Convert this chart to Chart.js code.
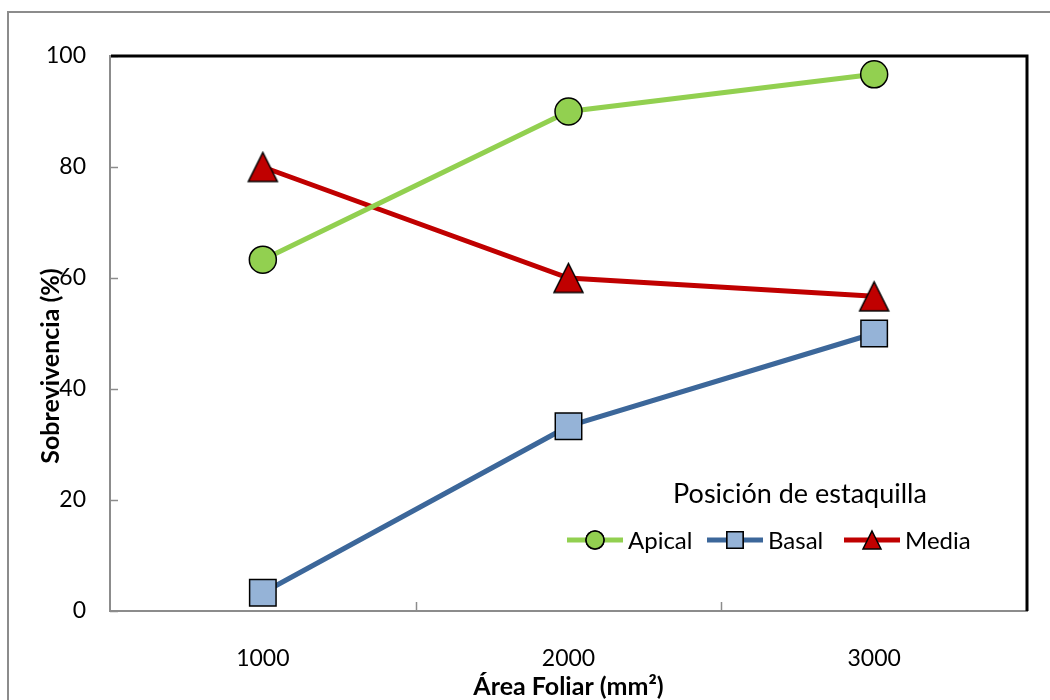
<!DOCTYPE html>
<html>
<head>
<meta charset="utf-8">
<script src="https://cdn.jsdelivr.net/npm/chart.js@4"></script>
<style>
  body { margin: 0; background: #fff; }
  #wrap { width: 1050px; height: 700px; }
</style>
</head>
<body>
<div id="wrap"><canvas id="chart1" width="1050" height="700"></canvas></div>
<script>
const areas = ['1000', '2000', '3000'];
const apical = [63.3, 90, 96.7];
const basal = [3.3, 33.3, 50];
const media = [80, 60, 56.7];
const yTicks = [0, 20, 40, 60, 80, 100];

const FONT = 'Lato, "Liberation Sans", sans-serif';

// triangle path with its bounding box centred on (cx, cy)
function triPath(c, cx, cy, w, h) {
    c.beginPath();
    c.moveTo(cx, cy - h / 2);
    c.lineTo(cx + w / 2, cy + h / 2);
    c.lineTo(cx - w / 2, cy + h / 2);
    c.closePath();
}

function triangleMarker(w, h, fill) {
    const cv = document.createElement('canvas');
    cv.width = w + 4;
    cv.height = h + 4;
    const c = cv.getContext('2d');
    triPath(c, cv.width / 2, cv.height / 2, w, h);
    c.fillStyle = fill;
    c.fill();
    c.lineWidth = 1.5;
    c.lineJoin = 'miter';
    c.strokeStyle = '#000';
    c.stroke();
    return cv;
}

const decor = {
    id: 'decor',
    beforeDraw(chart) {
        const c = chart.ctx;
        c.save();
        c.fillStyle = '#fff';
        c.fillRect(0, 0, chart.width, chart.height);
        c.strokeStyle = '#8c8c8c';
        c.lineWidth = 2;
        c.strokeRect(8, 12, chart.width + 20, chart.height + 20);
        c.restore();
    },
    beforeDatasetsDraw(chart) {
        const c = chart.ctx;
        const a = chart.chartArea;
        const xs = chart.scales.x;
        const ys = chart.scales.y;
        c.save();
        c.strokeStyle = '#8c8c8c';
        c.lineWidth = 1.5;
        // inward tick marks
        for (let i = 1; i < areas.length; i++) {
            const x = Math.round(xs.getPixelForValue(i - 0.5)) + 0.5;
            c.beginPath();
            c.moveTo(x, a.bottom);
            c.lineTo(x, a.bottom - 9);
            c.stroke();
        }
        yTicks.forEach(v => {
            const y = Math.round(ys.getPixelForValue(v)) + 0.5;
            c.beginPath();
            c.moveTo(a.left, y);
            c.lineTo(a.left + 8, y);
            c.stroke();
        });
        c.restore();
    },
    afterDatasetsDraw(chart) {
        const c = chart.ctx;
        const a = chart.chartArea;
        c.save();
        // black frame top + right
        c.strokeStyle = '#000';
        c.lineWidth = 3;
        c.beginPath();
        c.moveTo(a.left + 1, a.top);
        c.lineTo(a.right, a.top);
        c.lineTo(a.right, a.bottom);
        c.stroke();
        // axis titles
        c.fillStyle = '#000';
        c.font = 'bold 25px ' + FONT;
        c.textAlign = 'center';
        c.textBaseline = 'middle';
        c.fillText('Área Foliar (mm²)', (a.left + a.right) / 2, 687);
        c.save();
        c.translate(51, 366);
        c.rotate(-Math.PI / 2);
        c.fillText('Sobrevivencia (%)', 0, 0);
        c.restore();
        // legend
        c.font = '27px ' + FONT;
        c.fillText('Posición de estaquilla', 800, 494);
        const items = [
            { ds: 0, x0: 567, r: 9 },
            { ds: 1, x0: 707, r: 11.5 },
            { ds: 2, x0: 844, r: 0 }
        ];
        const ly = 540;
        c.font = '24px ' + FONT;
        c.textAlign = 'left';
        items.forEach(it => {
            const d = chart.data.datasets[it.ds];
            c.strokeStyle = d.borderColor;
            c.lineWidth = 5;
            c.beginPath();
            c.moveTo(it.x0, ly);
            c.lineTo(it.x0 + 56, ly);
            c.stroke();
            c.fillStyle = d.pointBackgroundColor;
            c.strokeStyle = '#000';
            c.lineWidth = 1.5;
            if (it.ds === 2) {
                triPath(c, it.x0 + 28, ly, 18, 18);
            } else {
                Chart.helpers.drawPoint(c, { pointStyle: d.pointStyle, radius: it.r, borderWidth: 1.5, rotation: 0 }, it.x0 + 28, ly);
            }
            c.fill();
            c.stroke();
            c.fillStyle = '#000';
            c.fillText(d.label, it.x0 + 61, ly + 1);
        });
        c.restore();
    }
};

new Chart(document.getElementById('chart1'), {
    type: 'line',
    data: {
        labels: areas,
        datasets: [{
            label: 'Apical',
            data: apical,
            borderColor: '#92D050',
            borderWidth: 5,
            pointStyle: 'circle',
            pointRadius: 13.5,
            pointBackgroundColor: '#92D050',
            pointBorderColor: '#000',
            pointBorderWidth: 1.5
        }, {
            label: 'Basal',
            data: basal,
            borderColor: '#3C679A',
            borderWidth: 5,
            pointStyle: 'rect',
            pointRadius: 18.7,
            pointBackgroundColor: '#95B3D7',
            pointBorderColor: '#000',
            pointBorderWidth: 1.5
        }, {
            label: 'Media',
            data: media,
            borderColor: '#C00000',
            borderWidth: 5,
            pointStyle: triangleMarker(29, 29, '#C00000'),
            pointRadius: 16,
            pointBackgroundColor: '#C00000',
            pointBorderColor: '#000',
            pointBorderWidth: 1.5
        }]
    },
    options: {
        responsive: false,
        animation: false,
        layout: { padding: { left: 0, top: 56, right: 23, bottom: 0 } },
        plugins: { legend: { display: false }, tooltip: { enabled: false } },
        scales: {
            x: {
                type: 'category',
                offset: true,
                grid: { display: false, drawTicks: false },
                border: { display: true, color: '#8c8c8c', width: 2 },
                ticks: { color: '#000', font: { family: FONT, size: 23 }, padding: 34 },
                afterFit(s) { s.height = 89; }
            },
            y: {
                min: 0,
                max: 100,
                afterBuildTicks(s) { s.ticks = yTicks.map(v => ({ value: v })); },
                grid: { display: false, drawTicks: false },
                border: { display: true, color: '#8c8c8c', width: 2 },
                ticks: { color: '#000', font: { family: FONT, size: 23 }, padding: 24 },
                afterFit(s) { s.width = 110; }
            }
        }
    },
    plugins: [decor]
});
</script>
</body>
</html>
